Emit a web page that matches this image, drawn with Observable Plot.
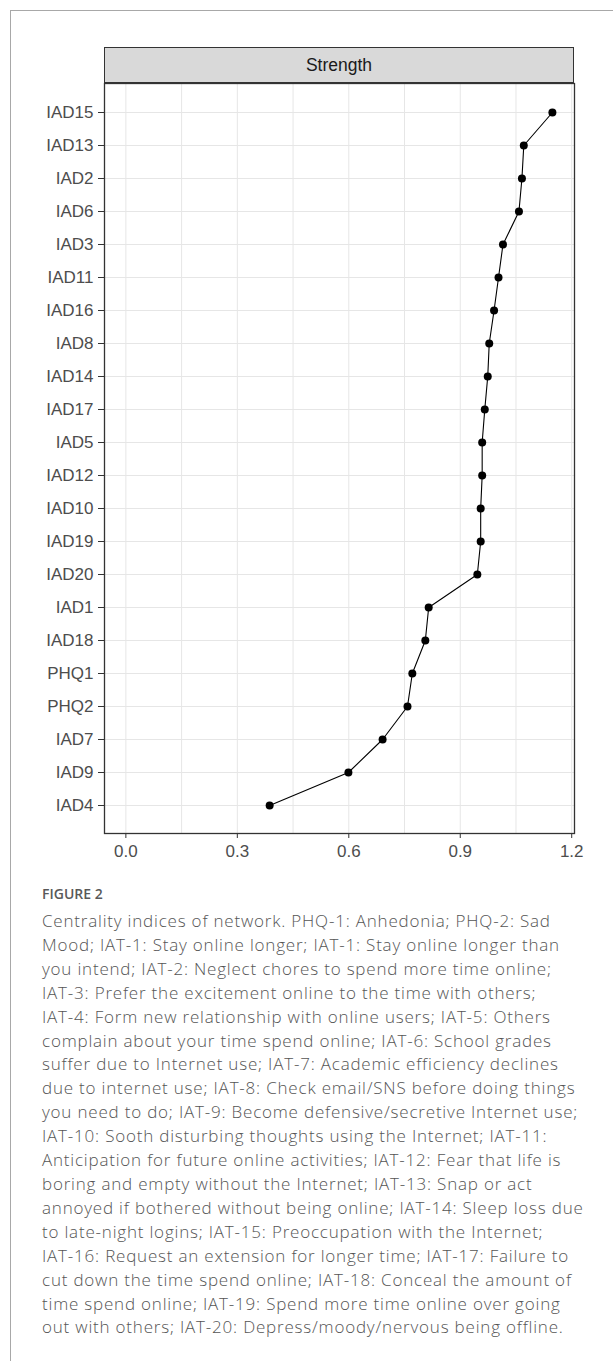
<!DOCTYPE html>
<html>
<head>
<meta charset="utf-8">
<script src="https://cdn.jsdelivr.net/npm/d3@7"></script>
<script src="https://cdn.jsdelivr.net/npm/@observablehq/plot@0.6"></script>
<style>
  html, body { margin: 0; padding: 0; background: #fff; }
  #wrap { position: relative; width: 613px; height: 1361px; overflow: hidden; background: #fff; }
  #card { position: absolute; left: 10px; top: 10px; width: 700px; height: 1400px;
          border-left: 1px solid #a8a8a8; border-top: 1px solid #a8a8a8; }
  #chart { position: absolute; left: 0; top: 0; }
  #strip { position: absolute; left: 104px; top: 47px; width: 468px; height: 34px;
           background: #d9d9d9; border: 1.3px solid #333; 
           font-family: "Liberation Sans", Arial, sans-serif; font-size: 17.5px; color: #1a1a1a;
           display: flex; align-items: center; justify-content: center; }
  #figlabel { position: absolute; left: 42px; top: 884px; font-family: "Open Sans", sans-serif;
              font-weight: 600; font-size: 14px; line-height: 20px; color: #595959; }
  #caption { position: absolute; left: 42px; top: 909px; font-family: "Open Sans", sans-serif;
             font-weight: 300; font-size: 17px; letter-spacing: 0.8px; line-height: 23.9px; color: #555; white-space: nowrap; }
</style>
</head>
<body>
<div id="wrap">
  <div id="card"></div>
  <div id="chart"></div>
  <div id="strip"></div>
  <div id="figlabel"></div>
  <div id="caption"></div>
</div>
<script>
// Data (top to bottom)
const nodes = ["IAD15","IAD13","IAD2","IAD6","IAD3","IAD11","IAD16","IAD8","IAD14","IAD17","IAD5",
               "IAD12","IAD10","IAD19","IAD20","IAD1","IAD18","PHQ1","PHQ2","IAD7","IAD9","IAD4"];
const strength = [1.148,1.071,1.066,1.058,1.015,1.003,0.991,0.978,0.974,0.966,0.959,
                  0.959,0.955,0.955,0.946,0.815,0.806,0.771,0.758,0.691,0.599,0.387];
const xTicks = [0, 0.3, 0.6, 0.9, 1.2];
const xGrid = [0, 0.15, 0.3, 0.45, 0.6, 0.75, 0.9, 1.05, 1.2];
const panelTitle = "Strength";
const figureLabel = "FIGURE 2";
const captionLines = [
  "Centrality indices of network. PHQ-1: Anhedonia; PHQ-2: Sad",
  "Mood; IAT-1: Stay online longer; IAT-1: Stay online longer than",
  "you intend; IAT-2: Neglect chores to spend more time online;",
  "IAT-3: Prefer the excitement online to the time with others;",
  "IAT-4: Form new relationship with online users; IAT-5: Others",
  "complain about your time spend online; IAT-6: School grades",
  "suffer due to Internet use; IAT-7: Academic efficiency declines",
  "due to internet use; IAT-8: Check email/SNS before doing things",
  "you need to do; IAT-9: Become defensive/secretive Internet use;",
  "IAT-10: Sooth disturbing thoughts using the Internet; IAT-11:",
  "Anticipation for future online activities; IAT-12: Fear that life is",
  "boring and empty without the Internet; IAT-13: Snap or act",
  "annoyed if bothered without being online; IAT-14: Sleep loss due",
  "to late-night logins; IAT-15: Preoccupation with the Internet;",
  "IAT-16: Request an extension for longer time; IAT-17: Failure to",
  "cut down the time spend online; IAT-18: Conceal the amount of",
  "time spend online; IAT-19: Spend more time online over going",
  "out with others; IAT-20: Depress/moody/nervous being offline."
];

const data = nodes.map((n, i) => ({node: n, value: strength[i]}));

const plot = Plot.plot({
  width: 613,
  height: 872,
  marginLeft: 104,
  marginRight: 39,
  marginTop: 83,
  marginBottom: 39,
  style: {fontFamily: "Liberation Sans, Arial, sans-serif", fontSize: "17px", color: "#4d4d4d", background: "transparent", overflow: "visible"},
  x: {domain: [-0.0575, 1.2075], label: null},
  y: {type: "point", domain: nodes, padding: 0.6, label: null},
  marks: [
    Plot.gridX({ticks: xGrid, stroke: "#e6e6e6", strokeOpacity: 1, strokeWidth: 1}),
    Plot.gridY({stroke: "#e6e6e6", strokeOpacity: 1, strokeWidth: 1}),
    Plot.axisX({ticks: xTicks, tickFormat: d => d.toFixed(1), tickSize: 5, tickPadding: 6, label: null, stroke: "#333"}),
    Plot.axisY({tickSize: 6, tickPadding: 5, label: null, stroke: "#333"}),
    Plot.frame({stroke: "#333", strokeWidth: 1.3}),
    Plot.line(data, {x: "value", y: "node", stroke: "#000", strokeWidth: 1.1}),
    Plot.dot(data, {x: "value", y: "node", r: 4, fill: "#000", stroke: "none"})
  ]
});
document.getElementById("chart").appendChild(plot);
document.getElementById("strip").textContent = panelTitle;
document.getElementById("figlabel").textContent = figureLabel;
const cap = document.getElementById("caption");
captionLines.forEach(l => { const d = document.createElement("div"); d.textContent = l; cap.appendChild(d); });
</script>
</body>
</html>
